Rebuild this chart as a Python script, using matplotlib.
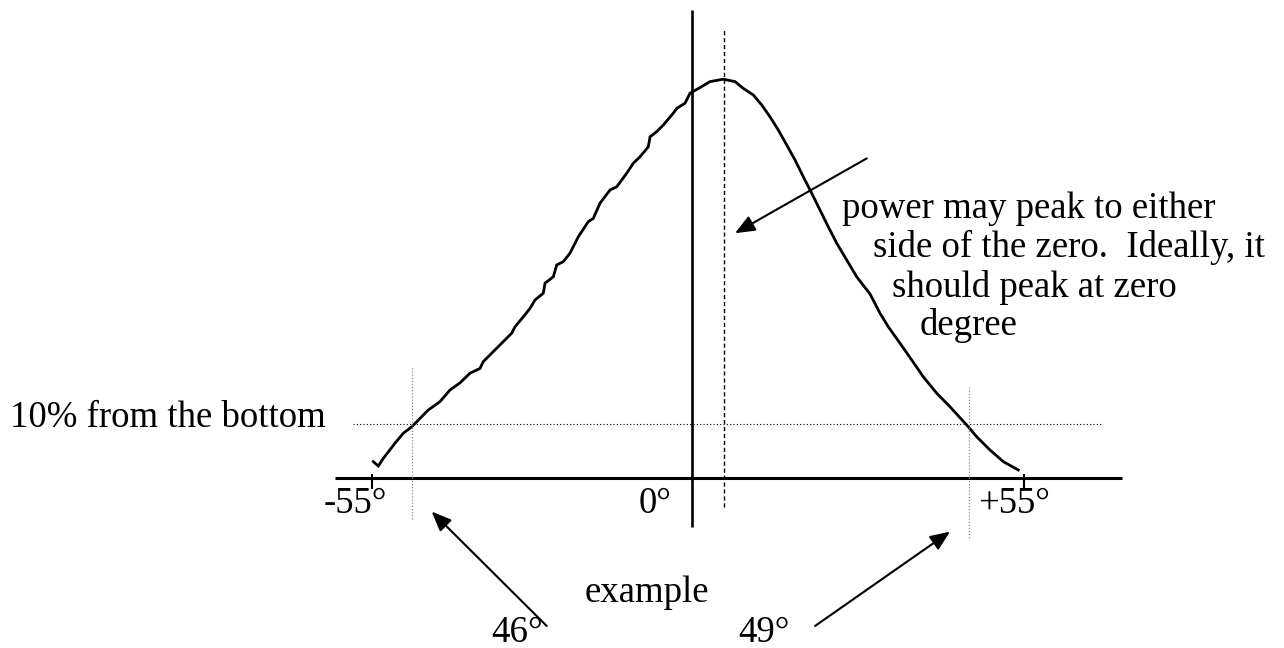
import matplotlib
matplotlib.use("Agg")
import matplotlib.pyplot as plt

plt.rcParams['font.family'] = ['Liberation Serif', 'DejaVu Serif']

# ---- data (angle in degrees, relative power in % of peak) ----
angle = [-54.76, -53.91, -53.07, -51.10, -49.70, -48.28, -46.88, -45.48, -43.51,
         -41.82, -40.13, -38.45, -36.76, -36.21, -34.52, -32.83, -31.42, -30.86,
         -29.46, -28.33, -27.49, -26.09, -25.80, -24.40, -23.83, -22.71, -21.59,
         -20.19, -18.50, -17.66, -16.53, -14.84, -13.71, -12.02, -10.91, -9.78,
         -8.38, -8.09, -6.96, -5.85, -4.17, -3.59, -2.19, -1.35, 0.34,
         2.02, 4.27, 6.24, 7.64, 9.33, 10.74, 12.14, 13.54, 14.96, 16.36,
         17.76, 19.17, 20.57, 21.97, 23.39, 25.08, 26.76, 29.01, 30.69, 32.09,
         34.06, 36.04, 37.99, 40.25, 42.50, 45.31, 47.00, 49.24, 51.48, 54.01]
power = [4.1, 3.0, 4.9, 8.7, 11.2, 12.8, 14.9, 17.0, 19.1,
         22.0, 23.8, 26.2, 27.4, 29.1, 31.6, 34.1, 36.2, 37.8,
         40.3, 42.4, 44.5, 46.2, 48.7, 50.3, 53.25, 54.1, 56.2,
         60.3, 64.1, 64.9, 68.7, 72.0, 72.8, 76.2, 78.7, 80.3,
         82.8, 85.3, 86.6, 88.25, 91.2, 92.4, 93.7, 96.2, 97.6,
         99.1, 99.7, 99.1, 97.4, 95.75, 93.25, 90.3, 87.0, 83.25, 79.5,
         75.3, 71.2, 67.0, 62.8, 58.7, 54.5, 50.3, 46.0, 41.2, 37.8,
         33.7, 29.5, 25.3, 21.2, 17.8, 13.25, 10.3, 7.0, 4.1, 2.0]

tick_values = [-55, 55]
tick_labels = ['-55°', '+55°']
zero_label = '0°'
zero_axis = -1.0          # position of drawn zero line
peak_angle = 4.38         # measured peak position
threshold_level = 13.5    # "10% from the bottom" line height
cross_left = -48.23       # left crossing of threshold
cross_right = 45.62       # right crossing of threshold
crossing_labels = ['46°', '49°']

fig = plt.figure(figsize=(12.84, 6.48), dpi=100)
ax = fig.add_axes([0, 0, 1, 1])
ax.set_xlim(-117.71, 98.82)
ax.set_ylim(-42.5, 119.5)
ax.axis('off')

FS = 26.5

# curve
ax.plot(angle, power, color='black', lw=2.0, solid_joinstyle='miter')

# horizontal axis
ax.hlines(0, -61.2, 71.5, color='black', lw=2.2)
# ticks
ax.vlines(tick_values, -2.75, 1.0, color='black', lw=1.5)
# zero line
ax.vlines(zero_axis, -12.25, 117, color='black', lw=1.9)
# peak dashed line
ax.vlines(peak_angle, -7.25, 112.5, color='black', lw=1.0, linestyles=(0, (3, 2)))
# threshold line
ax.hlines(threshold_level, -58.18, 68.3, color='black', lw=0.8, linestyles=(0, (1, 2)))
# crossing dotted verticals
ax.vlines(cross_left, -10.25, 27.8, color='#888888', lw=0.9, linestyles=(0, (1, 1.5)))
ax.vlines(cross_right, -15.0, 22.8, color='#888888', lw=0.9, linestyles=(0, (1, 1.5)))

# tick labels
ax.text(-52.44, -8.75, tick_labels[0], ha='right', va='baseline', fontsize=FS)
ax.text(47.2, -8.75, tick_labels[1], ha='left', va='baseline', fontsize=FS)
ax.text(-4.55, -8.75, zero_label, ha='right', va='baseline', fontsize=FS)

# left label
ax.text(-116.0, 12.75, '10% from the bottom', ha='left', va='baseline', fontsize=FS)

# annotation text
lines = ['power may peak to either', 'side of the zero.  Ideally, it',
         'should peak at zero', 'degree']
xs = [24.23, 29.51, 32.66, 37.44]
ys = [65.0, 55.3, 45.3, 35.75]
for t, x, y in zip(lines, xs, ys):
    ax.text(x, y, t, ha='left', va='baseline', fontsize=FS)

ax.text(-19.06, -30.9, 'example', ha='left', va='baseline', fontsize=FS)
ax.text(-34.79, -40.9, crossing_labels[0], ha='left', va='baseline', fontsize=FS)
ax.text(6.75, -40.9, crossing_labels[1], ha='left', va='baseline', fontsize=FS)

arrow_kw = dict(arrowstyle='-|>,head_length=0.6,head_width=0.25', mutation_scale=20,
                lw=1.5, color='black', shrinkA=0, shrinkB=0)
ax.annotate('', xy=(6.24, 61.2), xytext=(28.45, 79.9), arrowprops=arrow_kw)
ax.annotate('', xy=(-44.91, -8.4), xytext=(-25.51, -37.0), arrowprops=arrow_kw)
ax.annotate('', xy=(42.5, -13.4), xytext=(19.73, -37.0), arrowprops=arrow_kw)

fig.savefig('out.png', dpi=100, facecolor='white')
